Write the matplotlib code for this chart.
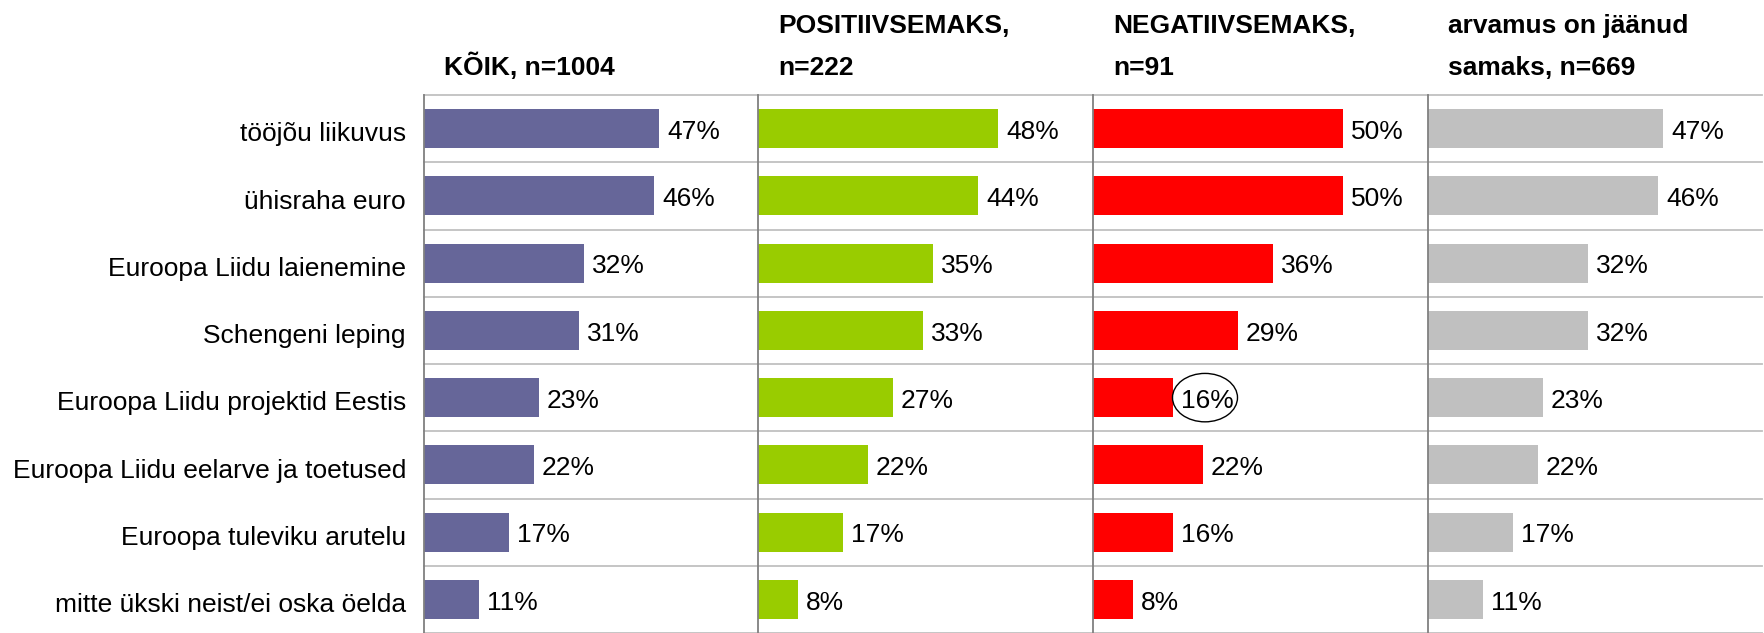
import matplotlib.pyplot as plt
from matplotlib.patches import Ellipse

plt.rcParams['font.family'] = ['Liberation Sans', 'DejaVu Sans']

categories = [
    "tööjõu liikuvus",
    "ühisraha euro",
    "Euroopa Liidu laienemine",
    "Schengeni leping",
    "Euroopa Liidu projektid Eestis",
    "Euroopa Liidu eelarve ja toetused",
    "Euroopa tuleviku arutelu",
    "mitte ükski neist/ei oska öelda",
]
koik = [47, 46, 32, 31, 23, 22, 17, 11]
positiivsemaks = [48, 44, 35, 33, 27, 22, 17, 8]
negatiivsemaks = [50, 50, 36, 29, 16, 22, 16, 8]
samaks = [47, 46, 32, 32, 23, 22, 17, 11]

headers = [
    ["KÕIK, n=1004"],
    ["POSITIIVSEMAKS,", "n=222"],
    ["NEGATIIVSEMAKS,", "n=91"],
    ["arvamus on jäänud", "samaks, n=669"],
]
series = [koik, positiivsemaks, negatiivsemaks, samaks]
colors = ["#666699", "#99CC00", "#FF0000", "#C0C0C0"]

W, H = 1764, 633
fig = plt.figure(figsize=(W / 100, H / 100), dpi=100)

lefts = [424, 758, 1093, 1428]
pw = 334
top = 95
fs = 19

for k in range(4):
    ax = fig.add_axes([lefts[k] / W, 0, pw / W, (H - top) / H])
    vals = series[k]
    y = list(range(len(categories)))
    ax.barh(y, vals, height=0.58, color=colors[k], zorder=2)
    ax.set_xlim(0, pw / 5)
    ax.set_ylim(len(categories) - 0.5, -0.5)
    for g in range(len(categories) + 1):
        ax.axhline(g - 0.5, color="#c0c0c0", lw=1.3, zorder=0, clip_on=False)
    for s in ["top", "right", "bottom"]:
        ax.spines[s].set_visible(False)
    ax.spines["left"].set_color("#808080")
    ax.spines["left"].set_linewidth(1.3)
    ax.spines["left"].set_zorder(3)
    ax.set_xticks([])
    if k == 0:
        ax.set_yticks([i + 0.05 for i in y])
        ax.set_yticklabels(categories, fontsize=fs)
        ax.tick_params(axis="y", length=0, pad=13)
    else:
        ax.set_yticks([])
    for i, v in enumerate(vals):
        ax.text(v + 1.6, i + 0.05, f"{v}%", fontsize=fs, va="center", ha="left")
    if k == 2:
        ax.add_patch(Ellipse((22.4, 4), width=13, height=0.72, fill=False,
                             edgecolor="black", lw=1, clip_on=False, zorder=4))
    # header lines
    lines = headers[k]
    baselines = [75] if len(lines) == 1 else [33, 75]
    for txt, b in zip(lines, baselines):
        fig.text((lefts[k] + 20) / W, 1 - b / H, txt, fontsize=fs,
                 fontweight="bold", ha="left", va="baseline")

fig.savefig("out.png", dpi=100)
